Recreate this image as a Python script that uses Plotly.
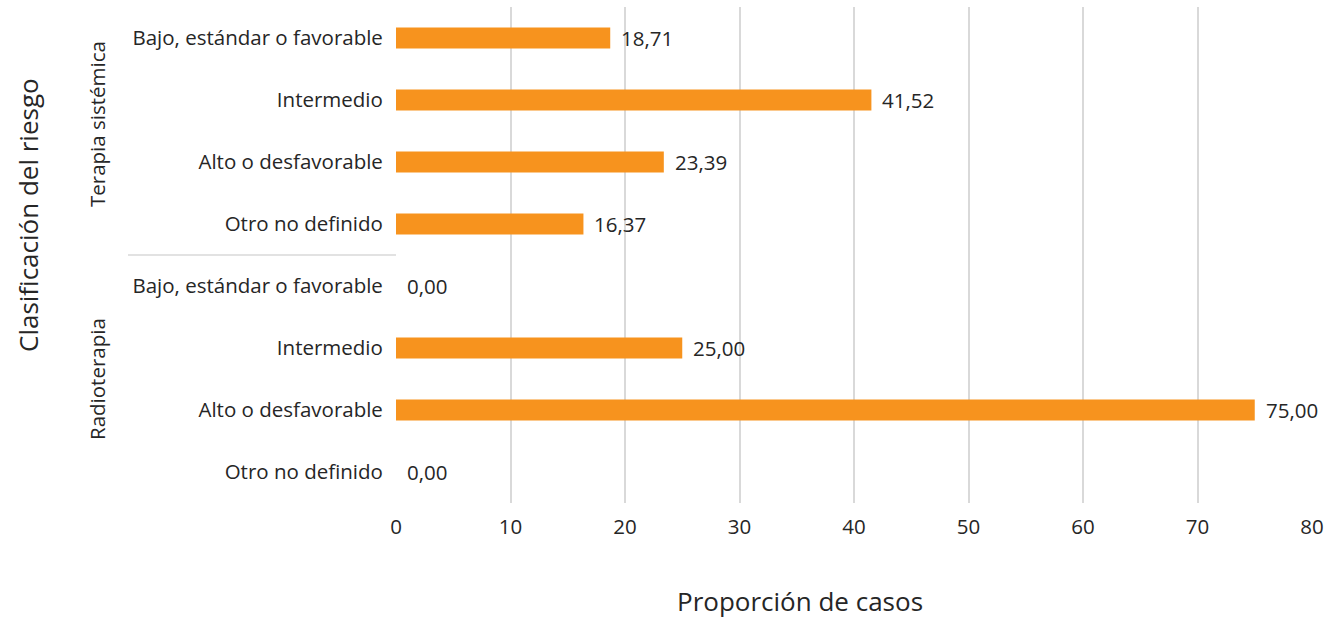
import plotly.graph_objects as go

# Risk classification by treatment type
groups = ["Terapia sistémica", "Radioterapia"]
categories = [
    "Bajo, estándar o favorable",
    "Intermedio",
    "Alto o desfavorable",
    "Otro no definido",
]
values_sistemica = [18.71, 41.52, 23.39, 16.37]
values_radio = [0.00, 25.00, 75.00, 0.00]
x_ticks = [0, 10, 20, 30, 40, 50, 60, 70, 80]

labels = categories + categories
values = values_sistemica + values_radio
positions = list(range(len(labels)))

FONT = "Open Sans"
TEXT = "#262626"
BAR = "#F7931E"
GRID = "#D9D9D9"
FS = 20.5
FS_TITLE = 26

fig = go.Figure()
fig.add_trace(go.Bar(
    x=values,
    y=positions,
    orientation="h",
    width=0.34,
    marker=dict(color=BAR, line=dict(width=0)),
    hoverinfo="skip",
))

# value labels to the right of each bar
for xv, yv in zip(values, positions):
    fig.add_annotation(
        x=xv, y=yv, xref="x", yref="y",
        text=f"{xv:.2f}".replace(".", ","),
        showarrow=False, xanchor="left", yanchor="middle",
        xshift=9, font=dict(family=FONT, size=FS, color=TEXT),
    )

L, R, T, B = 396, 26, 7, 115
W, H = 1338, 618
pw, ph = W - L - R, H - T - B


def px_to_paper_x(px):
    return (px - L) / pw


def px_to_paper_y(py):
    return 1 - (py - T) / ph


# group labels, rotated, beside their categories
group_label_y = [124, 379]
for g, gy in zip(groups, group_label_y):
    fig.add_annotation(
        x=px_to_paper_x(97), y=px_to_paper_y(gy), xref="paper", yref="paper",
        text=g, textangle=-90, showarrow=False,
        xanchor="center", yanchor="middle",
        font=dict(family=FONT, size=FS, color=TEXT),
    )

# separator between groups
n = len(categories)
fig.add_shape(
    type="line", xref="paper", yref="y",
    x0=px_to_paper_x(128), x1=0, y0=n - 0.5, y1=n - 0.5,
    line=dict(color=GRID, width=1.5),
)

# axis titles
fig.add_annotation(
    x=px_to_paper_x(28), y=px_to_paper_y(215), xref="paper", yref="paper",
    text="Clasificación del riesgo", textangle=-90, showarrow=False,
    xanchor="center", yanchor="middle",
    font=dict(family=FONT, size=FS_TITLE, color=TEXT),
)
fig.add_annotation(
    x=px_to_paper_x(800), y=px_to_paper_y(601), xref="paper", yref="paper",
    text="Proporción de casos", showarrow=False,
    xanchor="center", yanchor="middle",
    font=dict(family=FONT, size=FS_TITLE, color=TEXT),
)

fig.update_layout(
    width=W, height=H,
    margin=dict(l=L, r=R, t=T, b=B),
    plot_bgcolor="white", paper_bgcolor="white",
    showlegend=False,
    font=dict(family=FONT, size=FS, color=TEXT),
    xaxis=dict(
        range=[0, 80], tickvals=x_ticks, ticktext=[str(t) for t in x_ticks],
        showgrid=True, gridcolor=GRID, gridwidth=1.5,
        zeroline=False, showline=False,
        ticks="outside", ticklen=5, tickcolor="rgba(0,0,0,0)",
        tickfont=dict(family=FONT, size=FS, color=TEXT),
    ),
    yaxis=dict(
        range=[len(labels) - 0.5, -0.5],
        tickvals=positions, ticktext=labels,
        showgrid=False, zeroline=False, showline=False,
        ticks="outside", ticklen=8, tickcolor="rgba(0,0,0,0)",
        tickfont=dict(family=FONT, size=FS, color=TEXT),
    ),
)

fig.write_html("out.html")
